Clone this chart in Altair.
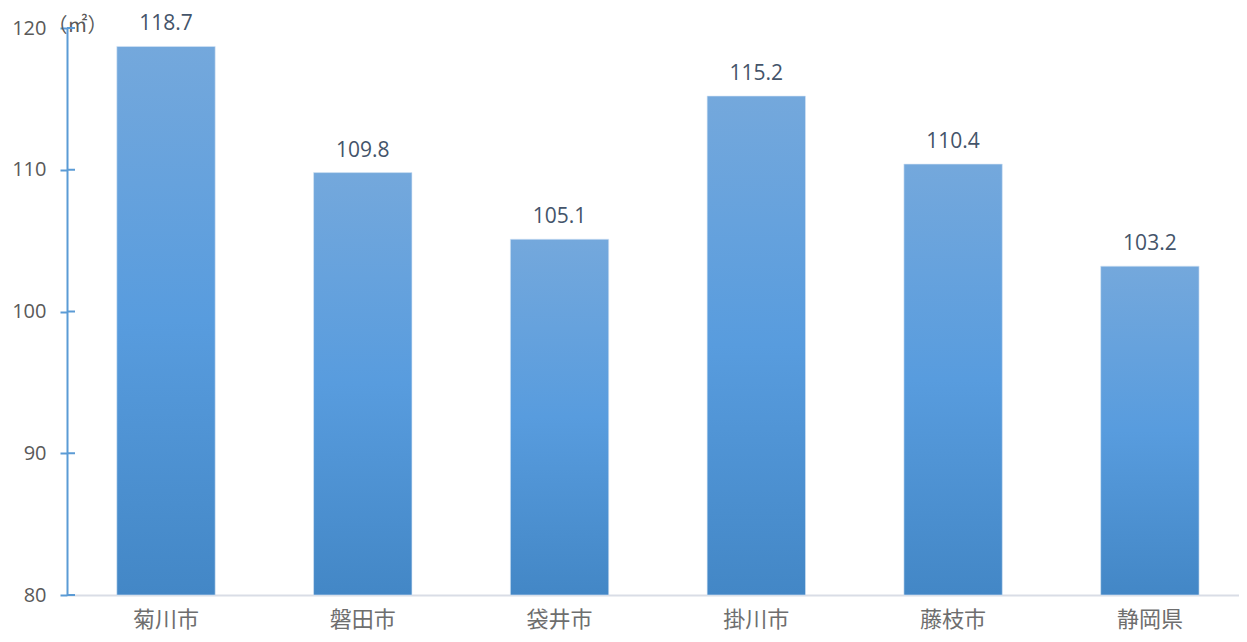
import altair as alt
import pandas as pd

categories = ["菊川市", "磐田市", "袋井市", "掛川市", "藤枝市", "静岡県"]
values = [118.7, 109.8, 105.1, 115.2, 110.4, 103.2]
y_ticks = [80, 90, 100, 110, 120]
y_min, y_max = 80, 120

df = pd.DataFrame({"name": categories, "value": values})
ticks_df = pd.DataFrame({"t": y_ticks})

FONT = "Noto Sans CJK JP"
GRAY = "#595959"
BLUE = "#5b9bd5"

yscale = alt.Scale(domain=[y_min, y_max], nice=False, zero=False)
xscale = alt.Scale(paddingInner=0.5, paddingOuter=0.228, align=0.555)

bars = alt.Chart(df).mark_bar(
    color=alt.Gradient(
        gradient="linear",
        x1=0, x2=0, y1=0, y2=1,
        stops=[
            alt.GradientStop(offset=0, color="#74a8dc"),
            alt.GradientStop(offset=0.5, color="#589cde"),
            alt.GradientStop(offset=1, color="#4387c6"),
        ],
    ),
    stroke="#d6e6f5",
    strokeWidth=0.6,
).encode(
    x=alt.X("name:N", sort=categories, scale=xscale,
            axis=alt.Axis(title=None, labelAngle=0, labelFontSize=22, labelFont=FONT,
                          labelColor="#6e6e6e", ticks=False, domainColor="#d9dde6",
                          domainWidth=2, labelPadding=14)),
    y=alt.Y("value:Q", scale=yscale,
            axis=alt.Axis(values=y_ticks, title="（㎡）", titleAngle=0, titleX=-20,
                          titleY=-3, titleAlign="left", titleBaseline="middle",
                          titleFont=FONT, titleFontSize=20, titleFontWeight="normal",
                          titleColor=GRAY, labelFontSize=20, labelFont="Open Sans",
                          labelColor=GRAY, grid=False, domainColor=BLUE, domainWidth=2,
                          tickColor=BLUE, tickWidth=2, tickSize=7, labelPadding=14)),
    y2=alt.datum(y_min),
)

tick_rules = alt.Chart(ticks_df).mark_rule(color=BLUE, strokeWidth=2).encode(
    y=alt.Y("t:Q", scale=yscale),
    x=alt.value(0),
    x2=alt.value(8),
)

labels = alt.Chart(df).mark_text(
    baseline="bottom", dy=-12, fontSize=21, font="Open Sans", color="#44546a"
).encode(
    x=alt.X("name:N", sort=categories, scale=xscale),
    y=alt.Y("value:Q", scale=yscale),
    text=alt.Text("value:Q", format=".1f"),
)

chart = alt.layer(bars, tick_rules, labels).properties(
    width=1172,
    height=567,
    background="white",
    autosize=alt.AutoSizeParams(type="none"),
    padding={"left": 59, "top": 20, "right": 0, "bottom": 39},
).configure_view(stroke=None)

chart.save("out.html", embed_options={"renderer": "svg", "actions": False})
